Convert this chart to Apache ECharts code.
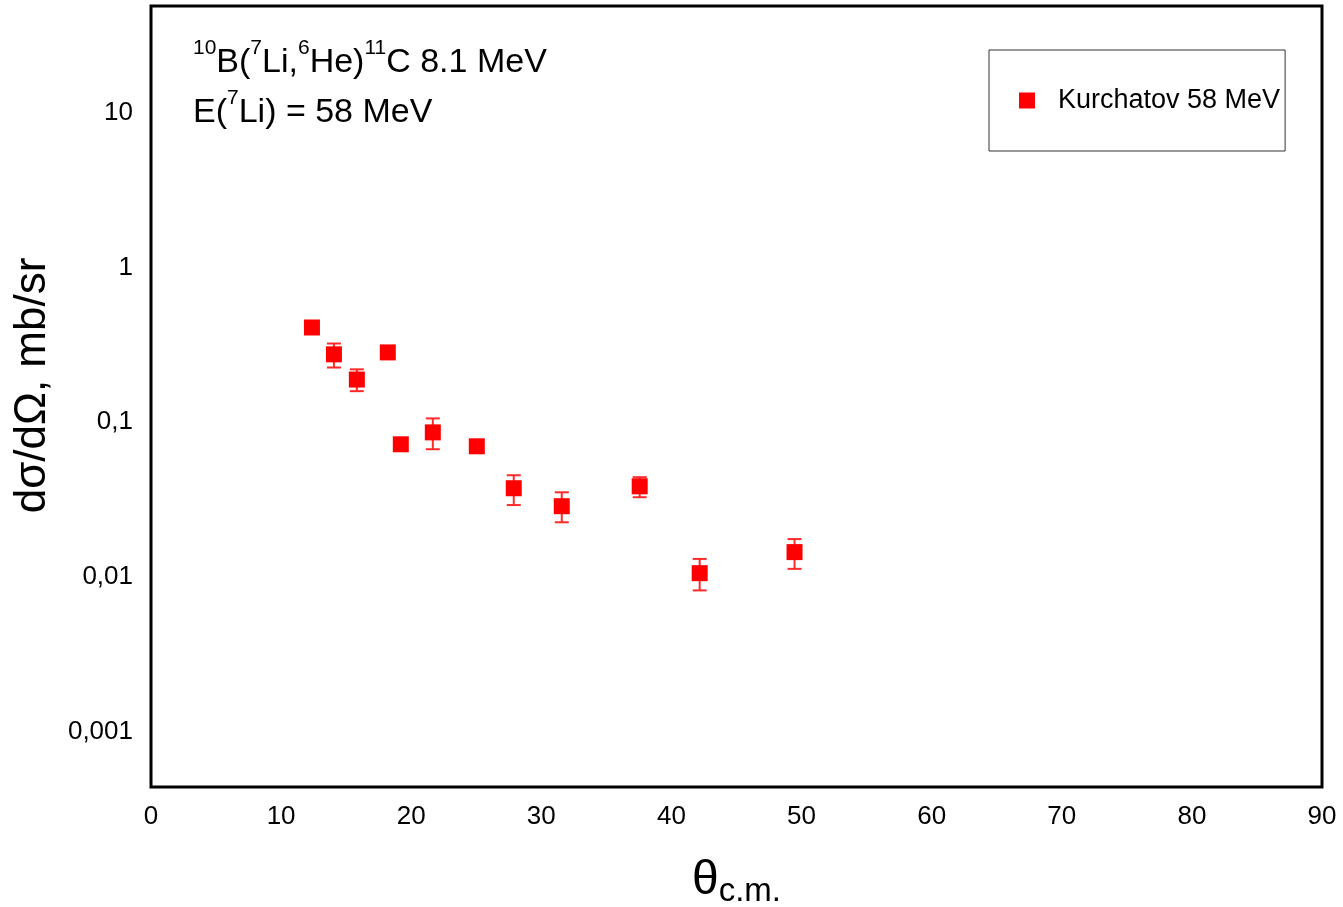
<!DOCTYPE html>
<html>
<head>
<meta charset="utf-8">
<script src="https://cdn.jsdelivr.net/npm/echarts@6/dist/echarts.min.js"></script>
<style>html,body{margin:0;padding:0;background:#fff}#c{width:1343px;height:907px}</style>
</head>
<body>
<div id="c"></div>
<script>
// Data
const angles   = [12.37, 14.06, 15.82, 18.2, 19.2, 21.66, 25.04, 27.88, 31.57, 37.56, 42.17, 49.46];
const xsec     = [0.41, 0.275, 0.189, 0.283, 0.0721, 0.0861, 0.070, 0.0375, 0.0287, 0.0386, 0.0106, 0.0145];
const errLow   = [0.40, 0.226, 0.159, 0.262, 0.0705, 0.067, 0.0675, 0.0292, 0.0226, 0.0328, 0.0082, 0.0113];
const errHigh  = [0.42, 0.323, 0.220, 0.300, 0.0737, 0.106, 0.0725, 0.0455, 0.0353, 0.0442, 0.0131, 0.0176];
const xTicks   = [0, 10, 20, 30, 40, 50, 60, 70, 80, 90];
const yTickLabels = {'0.001': '0,001', '0.01': '0,01', '0.1': '0,1', '1': '1', '10': '10'};
const seriesName = 'Kurchatov 58 MeV';

const FONT = 'Liberation Sans, Arial, sans-serif';
const chart = echarts.init(document.getElementById('c'));

const points = angles.map((a, i) => [a, xsec[i]]);
const bars = angles.map((a, i) => [a, errLow[i], errHigh[i]]);

chart.setOption({
  animation: false,
  backgroundColor: '#fff',
  textStyle: { fontFamily: FONT },
  title: {
    left: 188, top: 33,
    text: '{sup|10}B({sup|7}Li,{sup|6}He){sup|11}C 8.1 MeV\nE({sup|7}Li) = 58 MeV',
    textStyle: {
      fontFamily: FONT, fontSize: 34, fontWeight: 'normal', color: '#000', lineHeight: 50,
      rich: { sup: { fontSize: 21, verticalAlign: 'top', fontFamily: FONT, color: '#000', padding: [0, 0, 12, 0] } }
    }
  },
  legend: {
    left: 989, top: 50,
    orient: 'vertical',
    padding: [37, 5, 37, 30],
    itemWidth: 16, itemHeight: 16, itemGap: 0,
    borderColor: '#333', borderWidth: 1,
    icon: 'rect',
    data: [seriesName],
    textStyle: { fontFamily: FONT, fontSize: 27, color: '#000', padding: [4, 0, 0, 18] }
  },
  grid: {
    left: 151, right: 21, top: 6, bottom: 120,
    outerBoundsMode: 'none', containLabel: false,
    show: true, borderColor: '#000', borderWidth: 3, backgroundColor: 'transparent'
  },
  xAxis: {
    type: 'value', min: xTicks[0], max: xTicks[xTicks.length - 1], interval: 10,
    axisLine: { show: false }, axisTick: { show: false }, splitLine: { show: false },
    axisLabel: { fontFamily: FONT, fontSize: 26, color: '#000', margin: 17 },
    name: '{t|θ}{s|c.m.}', nameLocation: 'middle', nameGap: 66,
    nameTextStyle: {
      rich: {
        t: { fontSize: 48, fontFamily: FONT, color: '#000' },
        s: { fontSize: 33, fontFamily: FONT, color: '#000', verticalAlign: 'bottom', padding: [22, 0, 0, 0] }
      }
    }
  },
  yAxis: {
    type: 'log', logBase: 10, min: 0.00044, max: 49,
    axisLine: { show: false }, axisTick: { show: false }, splitLine: { show: false },
    axisLabel: {
      fontFamily: FONT, fontSize: 26, color: '#000', margin: 18,
      showMinLabel: false, showMaxLabel: false,
      formatter: v => { const k = String(Number(v.toPrecision(6))); return yTickLabels[k] !== undefined ? yTickLabels[k] : ''; }
    },
    name: 'dσ/dΩ, mb/sr', nameLocation: 'middle', nameGap: 96,
    nameTextStyle: { fontFamily: FONT, fontSize: 44, color: '#000', padding: [0, 0, 0, 22] }
  },
  series: [
    {
      type: 'custom', name: 'err', silent: true, z: 3,
      renderItem: (params, api) => {
        const x = api.value(0);
        const lo = api.coord([x, api.value(1)]);
        const hi = api.coord([x, api.value(2)]);
        const w = 7;
        const st = { stroke: '#ff2a2a', lineWidth: 2 };
        return {
          type: 'group',
          children: [
            { type: 'line', shape: { x1: lo[0], y1: lo[1], x2: hi[0], y2: hi[1] }, style: st },
            { type: 'line', shape: { x1: lo[0] - w, y1: lo[1], x2: lo[0] + w, y2: lo[1] }, style: st },
            { type: 'line', shape: { x1: hi[0] - w, y1: hi[1], x2: hi[0] + w, y2: hi[1] }, style: st }
          ]
        };
      },
      data: bars
    },
    {
      type: 'scatter', name: seriesName, symbol: 'rect', symbolSize: 16, z: 4,
      itemStyle: { color: '#ff0000', opacity: 1 },
      data: points
    }
  ]
});
</script>
</body>
</html>
